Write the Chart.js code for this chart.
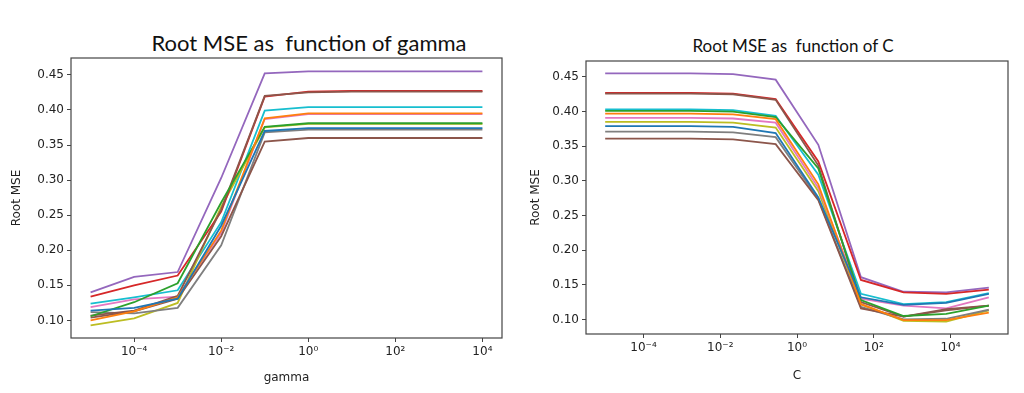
<!DOCTYPE html>
<html>
<head>
<meta charset="utf-8">
<script src="https://cdn.jsdelivr.net/npm/chart.js@4.4.1/dist/chart.umd.min.js"></script>
<style>
  html, body { margin: 0; padding: 0; background: #fff; }
  body { width: 1024px; height: 393px; position: relative; overflow: hidden; }
  .wrap { position: absolute; top: 0; }
  .title { position: absolute; font-family: Lato, sans-serif; color: #111; white-space: pre; transform: translate(-50%, -50%); }
</style>
</head>
<body>
<div class="title" id="titleLeft" style="left:309px; top:42px; font-size:22px;">Root MSE as  function of gamma</div>
<div class="title" id="titleRight" style="left:793px; top:45px; font-size:17px;">Root MSE as  function of C</div>
<div class="wrap" style="left:0; width:520px;"><canvas id="gammaChart" width="520" height="393"></canvas></div>
<div class="wrap" style="left:520px; width:504px;"><canvas id="cChart" width="504" height="393"></canvas></div>
<script>
// --- Data ---
// x values: gamma = logspace(-5, 4, 10), C = logspace(-5, 5, 10)
const gammaValues = [1e-5, 1e-4, 1e-3, 1e-2, 1e-1, 1e0, 1e1, 1e2, 1e3, 1e4];
const cValues = [-5, -3.889, -2.778, -1.667, -0.556, 0.556, 1.667, 2.778, 3.889, 5].map(e => Math.pow(10, e));

const xTickValues = [1e-4, 1e-2, 1e0, 1e2, 1e4];
const yTickValues = [0.10, 0.15, 0.20, 0.25, 0.30, 0.35, 0.40, 0.45];

const seriesColors = {
    blue: '#1f77b4', orange: '#ff7f0e', green: '#2ca02c', red: '#d62728', purple: '#9467bd',
    brown: '#8c564b', pink: '#e377c2', gray: '#7f7f7f', olive: '#bcbd22', cyan: '#17becf'
};

// Root MSE vs gamma
const gammaBlue   = [0.114, 0.118, 0.131, 0.235, 0.370, 0.374, 0.374, 0.374, 0.374, 0.374];
const gammaOrange = [0.100, 0.113, 0.133, 0.228, 0.388, 0.395, 0.395, 0.395, 0.395, 0.395];
const gammaGreen  = [0.106, 0.126, 0.153, 0.268, 0.376, 0.381, 0.381, 0.381, 0.381, 0.381];
const gammaBrown2 = [0.107, 0.114, 0.135, 0.258, 0.420, 0.425, 0.426, 0.426, 0.426, 0.426];
const gammaRed    = [0.134, 0.150, 0.164, 0.255, 0.419, 0.426, 0.427, 0.427, 0.427, 0.427];
const gammaPurple = [0.140, 0.162, 0.169, 0.303, 0.452, 0.455, 0.455, 0.455, 0.455, 0.455];
const gammaBrown  = [0.104, 0.113, 0.131, 0.220, 0.355, 0.360, 0.360, 0.360, 0.360, 0.360];
const gammaPink   = [0.119, 0.130, 0.134, 0.225, 0.387, 0.394, 0.394, 0.394, 0.394, 0.394];
const gammaGray   = [0.112, 0.110, 0.118, 0.207, 0.368, 0.372, 0.372, 0.372, 0.372, 0.372];
const gammaOlive  = [0.093, 0.103, 0.125, 0.262, 0.375, 0.380, 0.380, 0.380, 0.380, 0.380];
const gammaCyan   = [0.124, 0.133, 0.143, 0.240, 0.399, 0.404, 0.404, 0.404, 0.404, 0.404];

// Root MSE vs C
const cBlue   = [0.379, 0.379, 0.379, 0.378, 0.369, 0.276, 0.132, 0.121, 0.124, 0.137];
const cOrange = [0.397, 0.397, 0.397, 0.396, 0.389, 0.295, 0.122, 0.099, 0.099, 0.110];
const cGreen  = [0.401, 0.401, 0.401, 0.400, 0.392, 0.318, 0.128, 0.105, 0.108, 0.120];
const cBrown2 = [0.426, 0.426, 0.426, 0.425, 0.417, 0.322, 0.125, 0.104, 0.113, 0.120];
const cRed    = [0.427, 0.427, 0.427, 0.426, 0.418, 0.328, 0.157, 0.139, 0.137, 0.143];
const cPurple = [0.455, 0.455, 0.455, 0.454, 0.446, 0.352, 0.161, 0.140, 0.139, 0.146];
const cBrown  = [0.361, 0.361, 0.361, 0.360, 0.353, 0.272, 0.116, 0.104, 0.115, 0.120];
const cPink   = [0.391, 0.391, 0.391, 0.390, 0.384, 0.290, 0.130, 0.120, 0.116, 0.132];
const cGray   = [0.371, 0.371, 0.371, 0.370, 0.363, 0.274, 0.118, 0.100, 0.101, 0.114];
const cOlive  = [0.385, 0.385, 0.385, 0.384, 0.377, 0.285, 0.122, 0.098, 0.097, 0.113];
const cCyan   = [0.403, 0.403, 0.403, 0.402, 0.394, 0.309, 0.137, 0.122, 0.125, 0.138];

// --- Helpers ---
const SUP = { '-': '\u207B', '0': '\u2070', '1': '\u00B9', '2': '\u00B2', '3': '\u00B3', '4': '\u2074', '5': '\u2075', '6': '\u2076', '7': '\u2077', '8': '\u2078', '9': '\u2079' };
function powLabel(v) {
    const e = String(Math.round(Math.log10(v)));
    return '10' + e.split('').map(ch => SUP[ch]).join('');
}

function makeDatasets(xs, list) {
    return list.map(([name, ys]) => ({
        label: name,
        data: xs.map((x, i) => ({ x: x, y: ys[i] })),
        borderColor: seriesColors[name.replace('2', '')],
        borderWidth: 1.8,
        pointRadius: 0,
        tension: 0,
        fill: false
    }));
}

const frameBox = {
    id: 'frameBox',
    afterDraw(chart) {
        const { ctx, chartArea: a } = chart;
        ctx.save();
        ctx.strokeStyle = '#444';
        ctx.lineWidth = 1.2;
        ctx.strokeRect(a.left, a.top, a.right - a.left, a.bottom - a.top);
        ctx.restore();
    }
};

function buildChart(id, cfg) {
    const ctx = document.getElementById(id).getContext('2d');
    return new Chart(ctx, {
        type: 'line',
        data: { datasets: cfg.datasets },
        options: {
            responsive: false,
            animation: false,
            layout: { padding: { left: 0, right: cfg.padRight, top: cfg.padTop, bottom: 0 } },
            plugins: { legend: { display: false }, tooltip: { enabled: false } },
            scales: {
                x: {
                    type: 'logarithmic',
                    min: cfg.xMin,
                    max: cfg.xMax,
                    afterBuildTicks: axis => { axis.ticks = xTickValues.map(v => ({ value: v })); },
                    afterFit: scale => { scale.height = cfg.xHeight; },
                    grid: { drawOnChartArea: false, drawTicks: true, tickLength: 4, color: '#444' },
                    border: { display: false },
                    ticks: {
                        autoSkip: false, maxRotation: 0, padding: 3, color: '#222',
                        font: { family: 'DejaVu Sans', size: 12 },
                        callback: v => powLabel(v)
                    },
                    title: {
                        display: true, text: cfg.xTitle, color: '#222',
                        font: { family: 'DejaVu Sans', size: 12 },
                        padding: { top: 0, bottom: cfg.xTitlePad }
                    }
                },
                y: {
                    min: cfg.yMin,
                    max: cfg.yMax,
                    afterBuildTicks: axis => { axis.ticks = yTickValues.map(v => ({ value: v })); },
                    afterFit: scale => { scale.width = cfg.yWidth; },
                    grid: { drawOnChartArea: false, drawTicks: true, tickLength: 4, color: '#444' },
                    border: { display: false },
                    ticks: {
                        padding: 3, color: '#222',
                        font: { family: 'DejaVu Sans', size: 12 },
                        callback: v => v.toFixed(2)
                    },
                    title: {
                        display: true, text: 'Root MSE', color: '#222',
                        font: { family: 'DejaVu Sans', size: 12 },
                        padding: { top: cfg.yTitlePad, bottom: 0 }
                    }
                }
            }
        },
        plugins: [frameBox]
    });
}

// --- Charts ---
buildChart('gammaChart', {
    datasets: makeDatasets(gammaValues, [
        ['blue', gammaBlue], ['orange', gammaOrange], ['green', gammaGreen], ['brown2', gammaBrown2],
        ['red', gammaRed], ['purple', gammaPurple], ['brown', gammaBrown], ['pink', gammaPink],
        ['gray', gammaGray], ['olive', gammaOlive], ['cyan', gammaCyan]
    ]),
    xMin: Math.pow(10, -5.45), xMax: Math.pow(10, 4.45),
    yMin: 0.075, yMax: 0.474,
    padTop: 58, padRight: 18, xHeight: 55, yWidth: 71,
    xTitle: 'gamma', xTitlePad: 8, yTitlePad: 10
});

buildChart('cChart', {
    datasets: makeDatasets(cValues, [
        ['blue', cBlue], ['orange', cOrange], ['green', cGreen], ['brown2', cBrown2],
        ['red', cRed], ['purple', cPurple], ['brown', cBrown], ['pink', cPink],
        ['gray', cGray], ['olive', cOlive], ['cyan', cCyan]
    ]),
    xMin: Math.pow(10, -5.5), xMax: Math.pow(10, 5.5),
    yMin: 0.079, yMax: 0.473,
    padTop: 61, padRight: 16, xHeight: 59, yWidth: 66,
    xTitle: 'C', xTitlePad: 10, yTitlePad: 9
});
</script>
</body>
</html>
